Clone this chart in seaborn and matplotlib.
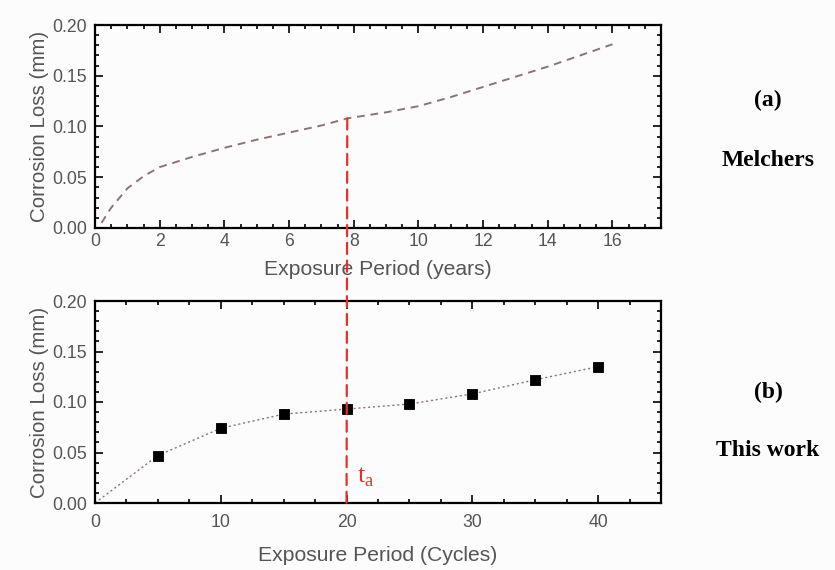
import matplotlib
matplotlib.use("Agg")
import matplotlib.pyplot as plt
from matplotlib.patches import ConnectionPatch
from matplotlib.ticker import MultipleLocator
import seaborn as sns
import pandas as pd

# (a) Melchers curve
years = [0.2, 0.5, 1.0, 1.5, 2.0, 3.0, 4.0, 5.0, 6.0, 7.0, 7.8, 9.0, 10.0, 11.0, 12.0, 13.0, 14.0, 15.0, 16.0]
loss_a = [0.005, 0.02, 0.039, 0.051, 0.060, 0.070, 0.079, 0.087, 0.094, 0.101, 0.108, 0.114, 0.120, 0.129, 0.139, 0.149, 0.159, 0.170, 0.181]

# (b) this work
cycles = [0, 5, 10, 15, 20, 25, 30, 35, 40]
loss_b = [0.0, 0.047, 0.074, 0.088, 0.093, 0.098, 0.108, 0.122, 0.135]
err_b = [0.0, 0.002, 0.003, 0.005, 0.003, 0.002, 0.002, 0.003, 0.002]

t_years = 7.8
t_cycles = 20

sns.set_theme(style="ticks")
plt.rcParams['font.family'] = ['Liberation Sans', 'DejaVu Sans']
plt.rcParams['xtick.direction'] = 'in'
plt.rcParams['ytick.direction'] = 'in'

grey = '#555555'
line_col = '#8c7474'

fig = plt.figure(figsize=(8.35, 5.7), dpi=100)
ax1 = fig.add_axes([95/835, 1 - 228/570, 566/835, 203/570])
ax2 = fig.add_axes([95/835, 1 - 503/570, 566/835, 202/570])

df_a = pd.DataFrame({'Year': years, 'Loss': loss_a})
sns.lineplot(data=df_a, x='Year', y='Loss', ax=ax1, color=line_col, lw=1.4,
             linestyle=(0, (4, 3)))

df_b = pd.DataFrame({'Cycle': cycles, 'Loss': loss_b, 'Err': err_b})
sns.lineplot(data=df_b, x='Cycle', y='Loss', ax=ax2, color=line_col, lw=1.0,
             linestyle=(0, (1.5, 2)))
ax2.errorbar(df_b['Cycle'][1:], df_b['Loss'][1:], yerr=df_b['Err'][1:], fmt='none',
             ecolor='#777777', elinewidth=1.2, capsize=0)
sns.scatterplot(data=df_b.iloc[1:], x='Cycle', y='Loss', ax=ax2, marker='s', s=60,
                color='black', edgecolor='black', zorder=5)

for ax, xmax, maj, mnr, xlab, lp in [(ax1, 17.5, 2, 0.5, 'Exposure Period (years)', 7),
                                     (ax2, 45, 10, 2.5, 'Exposure Period (Cycles)', 11)]:
    ax.set_xlim(0, xmax)
    ax.set_ylim(0, 0.2)
    ax.xaxis.set_major_locator(MultipleLocator(maj))
    ax.xaxis.set_minor_locator(MultipleLocator(mnr))
    ax.yaxis.set_major_locator(MultipleLocator(0.05))
    ax.yaxis.set_minor_locator(MultipleLocator(0.01))
    ax.yaxis.set_major_formatter(matplotlib.ticker.FormatStrFormatter('%.2f'))
    ax.tick_params(which='both', top=True, right=True, colors='black',
                   labelcolor=grey, labelsize=12.7, width=1.2)
    ax.tick_params(which='major', length=6)
    ax.tick_params(which='minor', length=3)
    ax.tick_params(axis='y', which='major', pad=6)
    for s in ax.spines.values():
        s.set_linewidth(1.6)
        s.set_color('black')
    ax.set_xlabel(xlab, fontsize=15.2, color=grey, labelpad=lp)
    ax.set_ylabel('Corrosion Loss (mm)', fontsize=14.8, color=grey, labelpad=2)
    ax.set_facecolor('#fcfcfc')

ax1.set_xticks([0, 2, 4, 6, 8, 10, 12, 14, 16])
ax2.tick_params(axis='x', which='major', pad=8)

# red threshold line spanning both panels
con = ConnectionPatch(xyA=(t_years, 0.108), coordsA=ax1.transData,
                      xyB=(t_cycles, 0.0), coordsB=ax2.transData,
                      color='#e8302a', lw=1.6, linestyle=(0, (5, 3)), zorder=10)
fig.add_artist(con)
ax2.text(t_cycles + 0.8, 0.020, r't$_\mathregular{a}$', color='#e8302a', fontsize=19,
         family='Liberation Serif')

serif = ['Liberation Serif', 'DejaVu Serif']
for label, ypix in [('(a)', 100), ('Melchers', 161), ('(b)', 392), ('This work', 451)]:
    fig.text(768/835, 1 - ypix/570, label, ha='center', va='center', fontsize=17,
             fontweight='bold', family=serif, color='black')

fig.savefig('out.png', dpi=100, facecolor='#fcfcfc')
